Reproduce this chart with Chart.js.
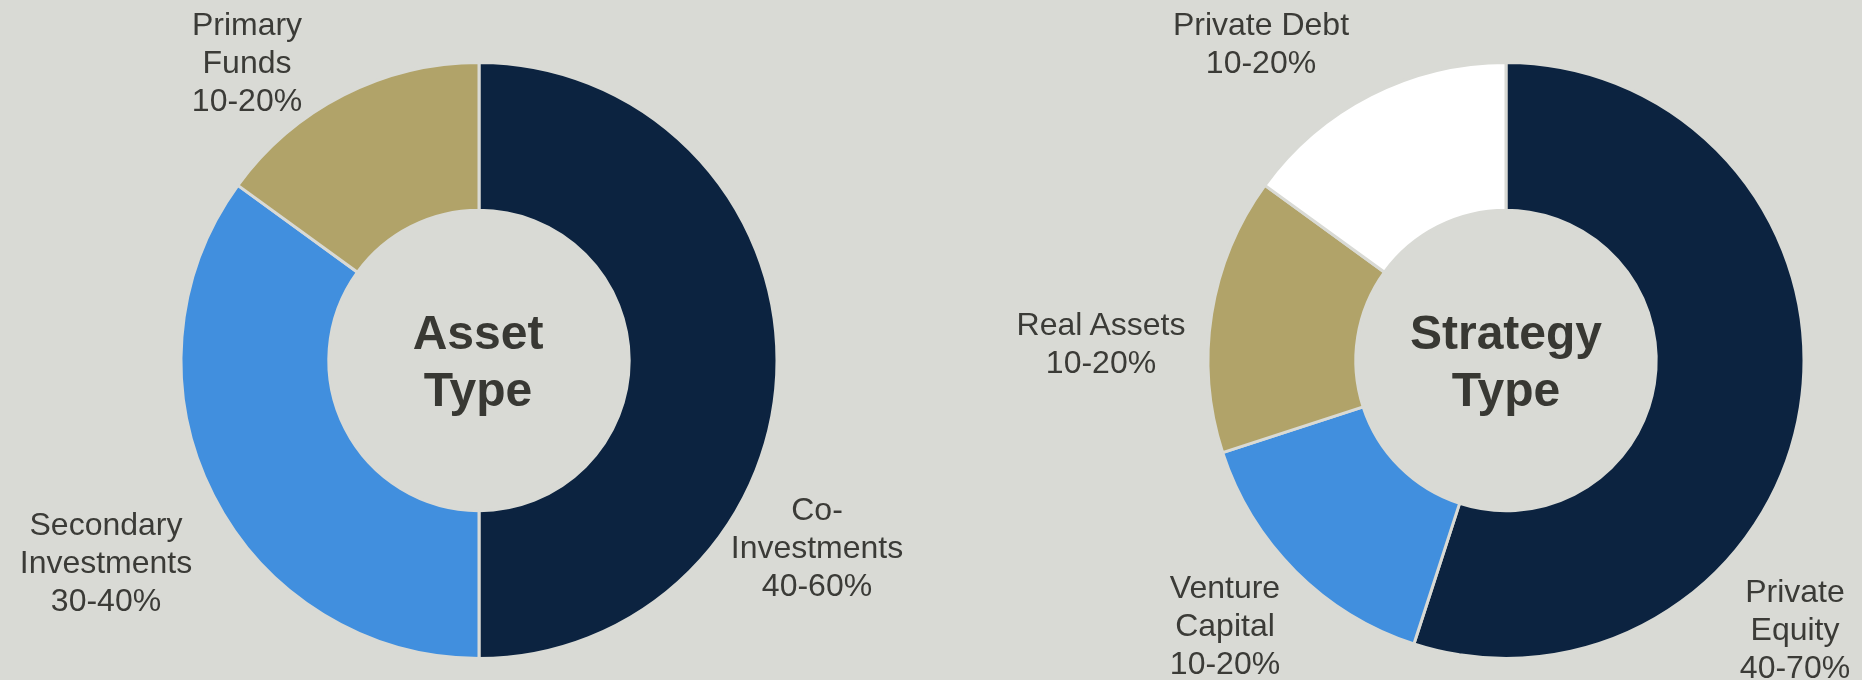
<!DOCTYPE html>
<html>
<head>
<meta charset="utf-8">
<script src="https://cdn.jsdelivr.net/npm/chart.js@4.4.1/dist/chart.umd.min.js"></script>
<style>
  html, body { margin: 0; padding: 0; width: 1862px; height: 680px; overflow: hidden; background: #d9dad5; }
  canvas { position: absolute; top: 0; }
  .lbl { position: absolute; width: 320px; text-align: center; font-family: "Liberation Sans", Arial, sans-serif;
         font-size: 32px; line-height: 38px; color: #3b3b37; white-space: pre; }
  .ctr { position: absolute; width: 320px; text-align: center; font-family: "Liberation Sans", Arial, sans-serif;
         font-weight: bold; font-size: 48px; line-height: 57px; color: #383833; white-space: pre; }
</style>
</head>
<body>
<canvas id="c1" width="680" height="680" style="left:139px"></canvas>
<canvas id="c2" width="680" height="680" style="left:1166px"></canvas>
<script>
// ---- data ----
const assetTitle = "Asset\nType";
const assetCategories = ["Co-\nInvestments", "Secondary\nInvestments", "Primary\nFunds"];
const assetShares = [50, 35, 15];
const assetRanges = ["40-60%", "30-40%", "10-20%"];

const strategyTitle = "Strategy\nType";
const strategyCategories = ["Private\nEquity", "Venture\nCapital", "Real Assets", "Private Debt"];
const strategyShares = [55, 15, 15, 15];
const strategyRanges = ["40-70%", "10-20%", "10-20%", "10-20%"];

// ---- styles / layout ----
const BG = "#d9dad5";
const assetColors = ["#0c2340", "#418fde", "#b1a369"];
const strategyColors = ["#0c2340", "#418fde", "#b1a369", "#ffffff"];
const assetLabelPos = [[817, 490], [106, 505], [247, 5]];       // [centerX, top]
const strategyLabelPos = [[1795, 572], [1225, 568], [1101, 305], [1261, 5]];

function makeChart(id, cats, shares, colors) {
  return new Chart(document.getElementById(id), {
    type: "doughnut",
    data: {
      labels: cats,
      datasets: [{
        data: shares,
        backgroundColor: colors,
        borderColor: BG,
        borderWidth: 3,
        hoverOffset: 0
      }]
    },
    options: {
      responsive: false,
      animation: false,
      radius: 298,
      cutout: "50.4%",
      layout: { padding: { top: 41, bottom: 0, left: 0, right: 0 } },
      plugins: { legend: { display: false }, tooltip: { enabled: false } }
    }
  });
}
makeChart("c1", assetCategories, assetShares, assetColors);
makeChart("c2", strategyCategories, strategyShares, strategyColors);

function addText(cls, text, cx, top) {
  const d = document.createElement("div");
  d.className = cls;
  d.textContent = text;
  d.style.left = (cx - 160) + "px";
  d.style.top = top + "px";
  document.body.appendChild(d);
}
assetCategories.forEach((c, i) => addText("lbl", c + "\n" + assetRanges[i], assetLabelPos[i][0], assetLabelPos[i][1]));
strategyCategories.forEach((c, i) => addText("lbl", c + "\n" + strategyRanges[i], strategyLabelPos[i][0], strategyLabelPos[i][1]));
addText("ctr", assetTitle, 478, 304);
addText("ctr", strategyTitle, 1506, 304);
</script>
</body>
</html>
